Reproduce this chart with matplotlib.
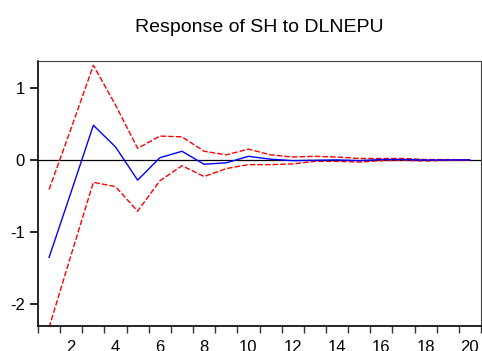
import matplotlib
matplotlib.use("Agg")
import matplotlib.pyplot as plt
import numpy as np

periods = list(range(1, 21))
response = [-1.35, -0.44, 0.48, 0.18, -0.28, 0.03, 0.12, -0.06, -0.04, 0.05,
            0.01, -0.01, -0.005, 0.0, -0.01, 0.005, 0.005, -0.002, 0.0, 0.0]
upper = [-0.41, 0.44, 1.31, 0.76, 0.16, 0.33, 0.32, 0.12, 0.07, 0.15,
         0.07, 0.04, 0.05, 0.04, 0.02, 0.02, 0.02, 0.005, 0.005, 0.0]
lower = [-2.32, -1.31, -0.31, -0.37, -0.71, -0.29, -0.08, -0.23, -0.12, -0.065,
         -0.065, -0.055, -0.02, -0.02, -0.03, -0.01, -0.005, -0.015, -0.005, 0.0]
xtick_labels = [2, 4, 6, 8, 10, 12, 14, 16, 18, 20]
ytick_vals = [-2, -1, 0, 1]
title = "Response of SH to DLNEPU"

plt.rcParams['font.family'] = ['Liberation Sans', 'DejaVu Sans']

fig = plt.figure(figsize=(4.82, 3.51), dpi=100)
ax = fig.add_axes([38/482, 25/351, 443/482, 265/351])

ax.axhline(0, color='black', lw=0.9, zorder=1)
ax.plot(periods, upper, color='red', lw=1.0, ls=(0, (4, 1.5)), zorder=2)
ax.plot(periods, lower, color='red', lw=1.0, ls=(0, (4, 1.5)), zorder=2)
ax.plot(periods, response, color='blue', lw=1.0, zorder=3)

ax.set_xlim(0.5, 20.5)
ax.set_ylim(-2.30, 1.37)

ax.set_xticks(np.arange(0.5, 21, 1.0))
ax.set_xticklabels([])
ax.set_xticks(xtick_labels, minor=True)
ax.set_xticklabels([str(v) for v in xtick_labels], minor=True)
ax.tick_params(axis='x', which='major', direction='out', length=5.2, width=1, color='#333333')
ax.tick_params(axis='x', which='minor', length=0, labelsize=12, pad=10)

ax.set_yticks(ytick_vals)
ax.set_yticklabels([str(v) for v in ytick_vals])
ax.tick_params(axis='y', direction='out', length=5.8, width=1.2, labelsize=12, pad=3.6)

for side in ['left', 'bottom']:
    ax.spines[side].set_linewidth(1.2)
    ax.spines[side].set_color('black')
for side in ['top', 'right']:
    ax.spines[side].set_linewidth(0.8)
    ax.spines[side].set_color('#444444')

fig.text(259.5/482, 1 - 32/351, title, ha='center', va='baseline', fontsize=14)

fig.savefig("out.png", dpi=100)
